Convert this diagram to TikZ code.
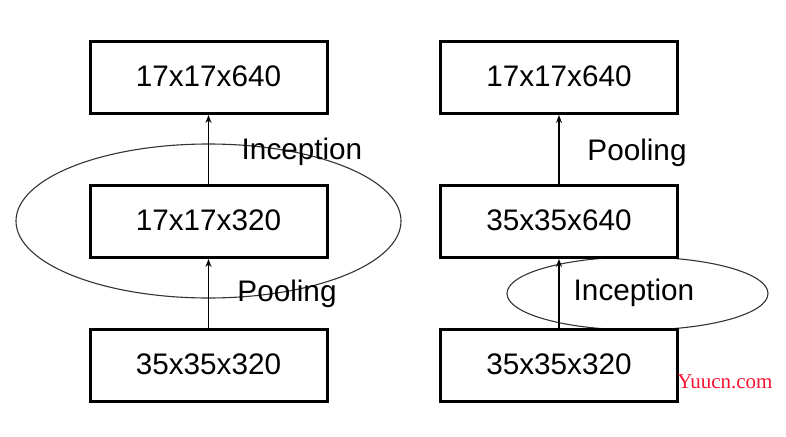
\documentclass[tikz,border=0pt]{standalone}
\usepackage{fontspec}
\setmainfont{Liberation Sans}
\newfontfamily\wmfont{Liberation Serif}
\usetikzlibrary{shapes.geometric,arrows.meta}
\definecolor{wmred}{RGB}{245,20,50}
\tikzset{
  box/.style={draw, line width=3pt, minimum width=237pt, minimum height=72pt, inner sep=0pt, text height=21.3pt, text depth=3.5pt, font=\fontsize{29.7}{32}\selectfont, fill=white},
  oval/.style={draw, ellipse, line width=1.1pt, inner sep=0pt, color=black!80},
  lbl/.style={font=\fontsize{29.7}{32}\selectfont, inner sep=0pt},
  arr/.style={line width=1.4pt, -{Stealth[length=8pt,width=6pt]}}
}
\begin{document}
\begin{tikzpicture}[x=1pt,y=-1pt]
\useasboundingbox (0,0) rectangle (786,436);
% left column
\node[oval, minimum width=385pt, minimum height=154pt] (e1) at (208.5,221) {};
\node[box] (l1) at (208.5,77.5) {17x17x640};
\node[box] (l2) at (208.5,221.5) {17x17x320};
\node[box] (l3) at (208.5,365.5) {35x35x320};
\draw[arr] (l3) -- (l2);
\draw[arr] (l2) -- (l1);
\node[lbl] (li) at (302,152) {Inception};
\node[lbl] (lp) at (287,294) {Pooling};
% right column
\node[oval, minimum width=261pt, minimum height=73pt] (e2) at (637.5,293.5) {};
\node[box] (r1) at (559,77.5) {17x17x640};
\node[box] (r2) at (559,221.5) {35x35x640};
\node[box] (r3) at (559,365.5) {35x35x320};
\draw[arr] (r3) -- (r2);
\draw[arr] (r2) -- (r1);
\node[lbl] (rp) at (637,153) {Pooling};
\node[lbl] (ri) at (634,293) {Inception};
% watermark
\node[inner sep=0pt, text=wmred, font=\wmfont\fontsize{21}{23}\selectfont] (wm) at (725,382) {Yuucn.com};
\end{tikzpicture}
\end{document}
